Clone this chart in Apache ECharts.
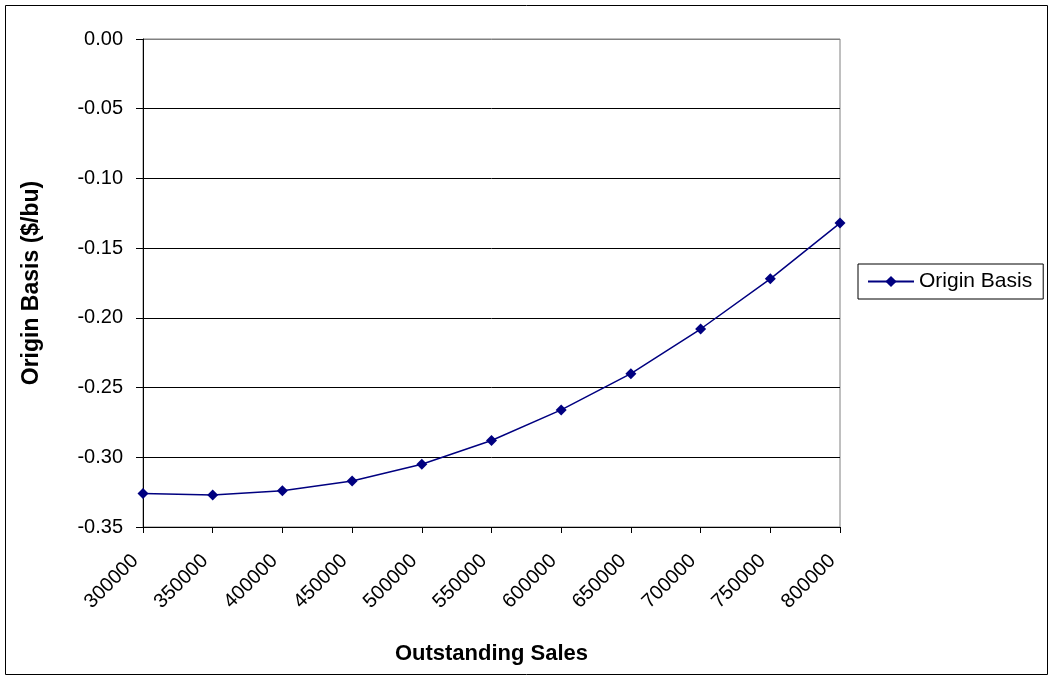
<!DOCTYPE html>
<html><head><meta charset="utf-8">
<script src="https://cdn.jsdelivr.net/npm/echarts@6/dist/echarts.min.js"></script>
<style>html,body{margin:0;padding:0;background:#fff}#c{width:1053px;height:680px}</style>
</head><body><div id="c"></div>
<script>
const categories = ['300000','350000','400000','450000','500000','550000','600000','650000','700000','750000','800000'];
const originBasis = [-0.326,-0.327,-0.324,-0.317,-0.305,-0.288,-0.266,-0.240,-0.208,-0.172,-0.132];
const seriesName = 'Origin Basis';
const xTitle = 'Outstanding Sales';
const yTitle = 'Origin Basis ($/bu)';

const FONT = 'Liberation Sans, Arial, sans-serif';
const chart = echarts.init(document.getElementById('c'));
chart.setOption({
  animation: false,
  textStyle: {fontFamily: FONT},
  graphic: [{type:'rect', shape:{x:5.5,y:5.5,width:1042,height:669}, style:{fill:'none', stroke:'#000', lineWidth:1}, silent:true, z:-1}],
  grid: {left:143, right:213, top:39, bottom:153, show:true, borderColor:'#808080', borderWidth:1, backgroundColor:'#fff'},
  legend: {
    data:[seriesName], left:858, top:264, orient:'vertical',
    borderColor:'#000', borderWidth:1, borderRadius:0, padding:[7,11,7,9],
    itemWidth:46, itemHeight:14, itemGap:0,
    textStyle:{fontSize:21, color:'#000', fontFamily:FONT}
  },
  xAxis: {
    type:'category', data:categories, boundaryGap:false,
    name:xTitle, nameLocation:'middle', nameGap:116,
    nameTextStyle:{fontSize:22, fontWeight:'bold', color:'#000', fontFamily:FONT},
    axisLine:{onZero:false, lineStyle:{color:'#000', width:1}},
    axisTick:{show:true, length:6, lineStyle:{color:'#000'}},
    axisLabel:{rotate:45, fontSize:20, color:'#000', margin:23, interval:0, fontFamily:FONT,
      formatter: v => v + '  '},
    splitLine:{show:false}
  },
  yAxis: {
    type:'value', min:-0.35, max:0, interval:0.05,
    name:yTitle, nameLocation:'middle', nameGap:100,
    nameTextStyle:{fontSize:23, fontWeight:'bold', color:'#000', fontFamily:FONT},
    axisLine:{show:true, lineStyle:{color:'#000', width:1}},
    axisTick:{show:true, length:7, lineStyle:{color:'#000'}},
    axisLabel:{fontSize:20, color:'#000', margin:20, fontFamily:FONT, formatter: v => v.toFixed(2)},
    splitLine:{show:true, lineStyle:{color:['#000','#000','#000','#000','#000','#000','#000','#808080'], width:1}}
  },
  series: [{
    name:seriesName, type:'line', data:originBasis,
    symbol:'diamond', symbolSize:11,
    itemStyle:{color:'#000080'},
    lineStyle:{color:'#000080', width:1.5}
  }]
});
</script></body></html>
